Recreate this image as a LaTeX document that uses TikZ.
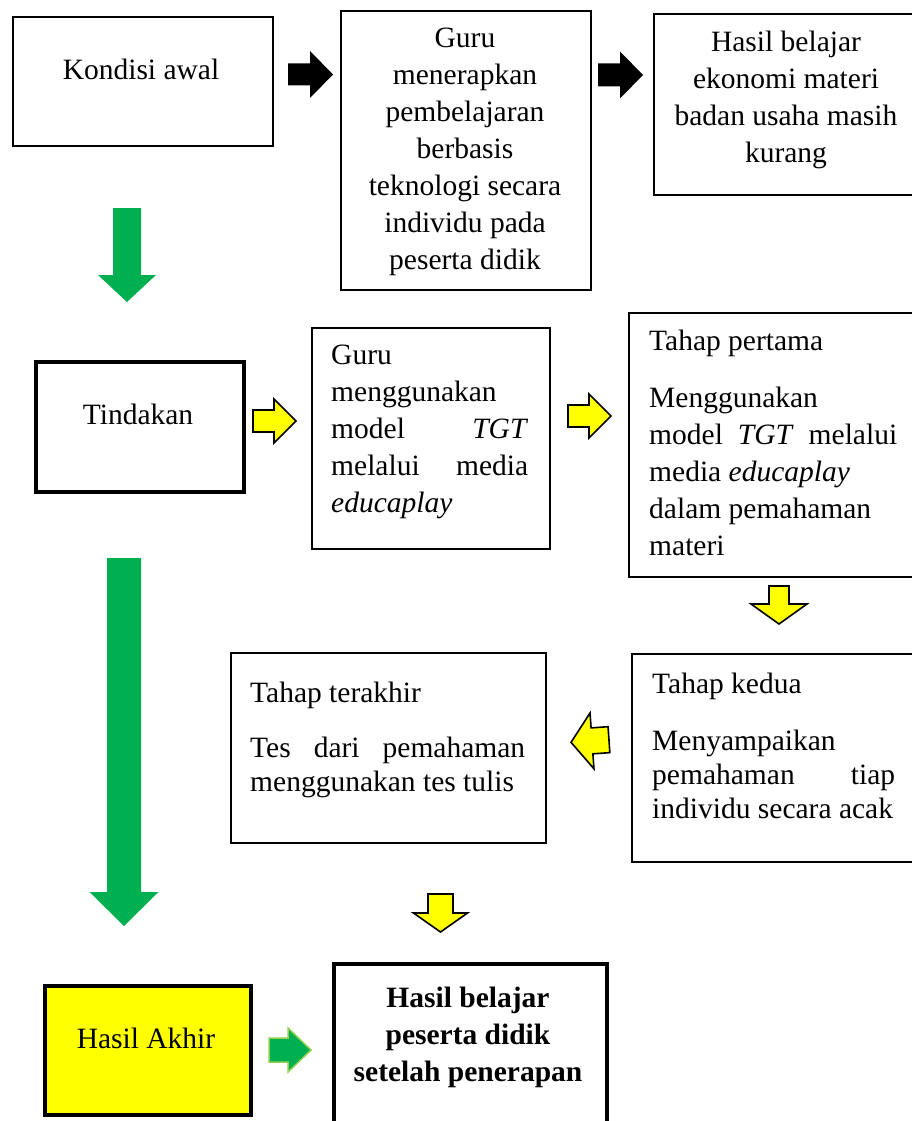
\documentclass[tikz,border=0pt]{standalone}
\usepackage{fontspec}
\setmainfont{Liberation Serif}
\definecolor{grn}{HTML}{00B050}
\definecolor{ylw}{HTML}{FFFF00}
\definecolor{lgrn}{HTML}{92D050}
% right/left block arrow: style, tail x, head-base x, tip x, centre y, shaft half, head half
\newcommand\RArr[7]{\path[#1] ({#2},{#5-#6}) -- ({#3},{#5-#6}) -- ({#3},{#5-#7}) -- ({#4},{#5}) -- ({#3},{#5+#7}) -- ({#3},{#5+#6}) -- ({#2},{#5+#6}) -- cycle;}
% down block arrow: style, centre x, tail y, head-base y, tip y, shaft half, head half
\newcommand\DArr[7]{\path[#1] ({#2-#6},{#3}) -- ({#2+#6},{#3}) -- ({#2+#6},{#4}) -- ({#2+#7},{#4}) -- ({#2},{#5}) -- ({#2-#7},{#4}) -- ({#2-#6},{#4}) -- cycle;}
\begin{document}
\begin{tikzpicture}[x=1pt,y=-1pt,
  box/.style={draw, line width=1.8pt, rectangle, inner sep=0, anchor=north west},
  tbox/.style={box, line width=4pt},
  txt/.style={inner sep=0, font=\fontsize{29.5}{37}\selectfont},
  txtb/.style={inner sep=0, font=\fontsize{29.5}{34}\selectfont},
  blk/.style={fill=black},
  ylwarr/.style={fill=ylw, draw=black, line width=1.6pt, line join=miter},
  grnarr/.style={fill=grn},
  grnarr2/.style={fill=grn, draw=lgrn, line width=1.5pt, line join=miter}]
\useasboundingbox (0,0) rectangle (912,1121);
\clip (0,0) rectangle (912,1121);
\fill[white] (0,0) rectangle (912,1121);

% boxes
\node[box, minimum width=260, minimum height=129] (b1) at (12,16) {};
\node[box, minimum width=250, minimum height=279] (b2) at (340,10) {};
\node[box, minimum width=266, minimum height=181] (b3) at (653,13) {};
\node[tbox, minimum width=208, minimum height=130] (b4) at (34,360) {};
\node[box, minimum width=238, minimum height=221] (b5) at (311,327) {};
\node[box, minimum width=300, minimum height=264] (b6) at (628,312) {};
\node[box, minimum width=300, minimum height=208] (b7) at (631,653) {};
\node[box, minimum width=315, minimum height=190] (b8) at (230,652) {};
\node[tbox, fill=ylw, minimum width=206, minimum height=129] (b9) at (43,984) {};
\node[tbox, minimum width=273, minimum height=200] (b10) at (332,962) {};

% texts
\node[txt, anchor=base] (t1) at (141,80) {Kondisi awal};
\node[txt, anchor=base] (t2) at (465,48) {\parbox[t]{240pt}{\centering Guru\\menerapkan\\pembelajaran\\berbasis\\teknologi secara\\individu pada\\peserta didik}};
\node[txt, anchor=base] (t3) at (786,52) {\parbox[t]{262pt}{\centering Hasil belajar\\ekonomi materi\\badan usaha masih\\kurang}};
\node[txt, anchor=base] (t4) at (138,424) {Tindakan};
\node[txt, anchor=base west] (t5) at (331,364) {\parbox[t]{197pt}{Guru\\menggunakan\\\makebox[\linewidth][s]{model \textit{TGT}}\\\makebox[\linewidth][s]{melalui media}\\\textit{educaplay}}};
\node[txt, anchor=base west] (t6) at (649,350) {\parbox[t]{248pt}{Tahap pertama\\[20pt]Menggunakan\\\makebox[\linewidth][s]{model \textit{TGT} melalui}\\media \textit{educaplay}\\dalam pemahaman\\materi}};
\node[txtb, anchor=base west] (t7) at (652,693) {\parbox[t]{243pt}{Tahap kedua\\[23pt]Menyampaikan\\\makebox[\linewidth][s]{pemahaman tiap}\\individu secara acak}};
\node[txtb, anchor=base west] (t8) at (250,702) {\parbox[t]{275pt}{Tahap terakhir\\[21pt]\makebox[\linewidth][s]{Tes dari pemahaman}\\menggunakan tes tulis}};
\node[txt, anchor=base] (t9) at (146,1048) {Hasil Akhir};
\node[txt, anchor=base] (t10) at (468,1007) {\parbox[t]{262pt}{\centering\bfseries Hasil belajar\\peserta didik\\setelah penerapan}};

% block arrows
\RArr{blk}{288}{310}{333}{74.5}{11}{23.5}
\RArr{blk}{598}{620}{643}{75}{11.5}{23.5}
\DArr{grnarr}{127}{208}{275}{302}{14}{29}
\RArr{ylwarr}{253}{274}{296}{421}{11}{22}
\RArr{ylwarr}{568}{589}{611}{416}{11}{22}
\DArr{ylwarr}{779}{586}{604}{624}{10}{28}
\RArr{ylwarr, rotate around={4:(590,741)}}{609}{592}{571}{741}{13}{28}
\DArr{grnarr}{124}{558}{892}{926}{17}{34.5}
\DArr{ylwarr}{440.5}{894}{913}{932}{12.5}{27}
\RArr{grnarr2}{269}{288}{311}{1050}{12}{22}
\end{tikzpicture}
\end{document}
